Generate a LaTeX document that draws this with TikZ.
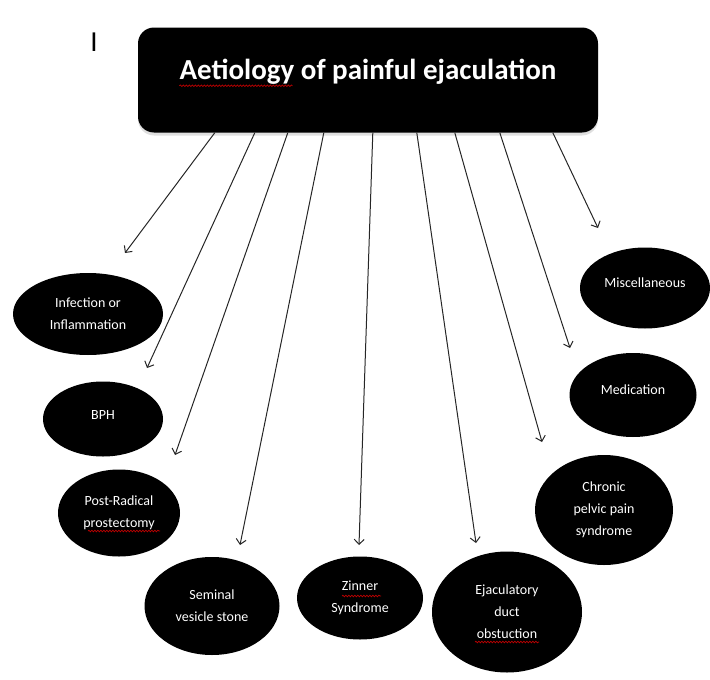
\documentclass[tikz,border=0pt]{standalone}
\usepackage{fontspec}
\setmainfont{Carlito}
\usetikzlibrary{shapes.geometric, arrows.meta, calc, shadows,
  decorations.pathmorphing}

\tikzset{
  cause/.style={ellipse, fill=black, text=white, align=center,
    inner sep=0pt, font=\fontsize{14}{22}\selectfont},
  titlebox/.style={rectangle, rounded corners=16pt, fill=black,
    minimum width=460pt, minimum height=105pt,
    drop shadow={opacity=0.25, shadow xshift=0pt, shadow yshift=-3pt}},
  titletext/.style={text=white, inner sep=0pt,
    font=\fontsize{29}{34}\bfseries\selectfont},
  link/.style={draw=black!85, line width=1pt,
    -{Straight Barb[length=5pt, width=10pt]}},
  spell/.style={draw=red!75!black, line width=0.7pt, decorate,
    decoration={snake, segment length=3pt, amplitude=0.8pt}}
}

\begin{document}
\begin{tikzpicture}[x=1pt, y=-1pt]
\useasboundingbox (0,0) rectangle (710,680);

\node[inner sep=0pt, font=\fontsize{29}{29}\selectfont] (cursor) at (94,42) {I};

% the heading
\node[titlebox] (title) at (368,80) {};
\node[titletext] (titletxt) at (368,72) {Aetiology of painful ejaculation};

% the causes
\node[cause, minimum width=150pt, minimum height=82pt] (infect) at (88,314) {Infection or\\Inflammation};
\node[cause, minimum width=120pt, minimum height=75pt] (bph) at (103,419) {\raisebox{8pt}{BPH}};
\node[cause, minimum width=122pt, minimum height=87pt] (postrad) at (119,513) {Post-Radical\\prostectomy};
\node[cause, minimum width=135pt, minimum height=98pt] (stone) at (212,606) {Seminal\\vesicle stone};
\node[cause, minimum width=126pt, minimum height=83pt] (zinner) at (360,598) {Zinner\\Syndrome};
\node[cause, minimum width=150pt, minimum height=121pt] (duct) at (507,612) {Ejaculatory\\duct\\obstuction};
\node[cause, minimum width=138pt, minimum height=110pt] (cpps) at (604,510) {Chronic\\pelvic pain\\syndrome};
\node[cause, minimum width=127pt, minimum height=84pt] (medic) at (633,395) {\raisebox{10pt}{Medication}};
\node[cause, minimum width=130pt, minimum height=81pt] (misc) at (645,288) {\raisebox{10pt}{Miscellaneous}};

% arrows from the heading
\foreach \name/\dx/\tx/\ty in {infect/77/125/253, bph/117/147/368,
    postrad/150/175/455, stone/186/240/545, zinner/235/359/545,
    duct/279/476/543, cpps/317/542/442, medic/362/570/348, misc/415/598/228} {
  \coordinate (tip-\name) at (\tx,\ty);
  \draw[link] ([xshift=\dx pt]title.south west) -- (tip-\name);
}

% spelling marks
\draw[spell] ([yshift=-6pt]titletxt.base west) -- ++(113,0);
\draw[spell] (88,531) -- (160,531);
\draw[spell] (342,596) -- (381,596);
\draw[spell] (475,642) -- (539,642);

\end{tikzpicture}
\end{document}
